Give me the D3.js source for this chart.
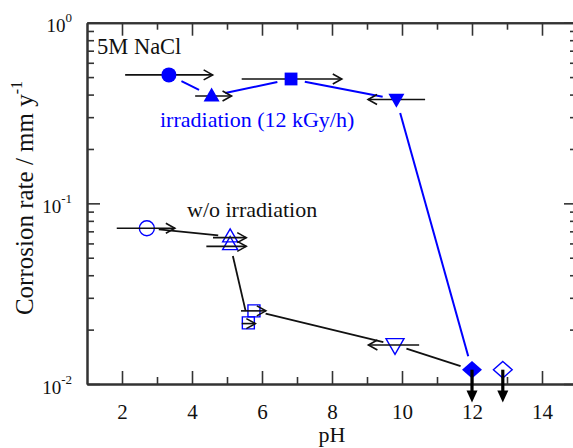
<!DOCTYPE html>
<html>
<head>
<meta charset="utf-8">
<script src="https://cdn.jsdelivr.net/npm/d3@7/dist/d3.min.js"></script>
<style>
html,body{margin:0;padding:0;background:#fff;}
svg{display:block;}
svg text{font-family:"Liberation Serif","Times New Roman",serif;}
</style>
</head>
<body>
<svg id="chart" width="573" height="448"></svg>
<script>
// ---- data ----
// irradiation (12 kGy/h) series, filled markers
const irrPH    = [3.34, 4.56, 6.83, 9.84, 12.0];
const irrRate  = [0.514, 0.393, 0.488, 0.376, 0.012];
const irrShape = ["circle", "triangle", "square", "triangleDown", "diamond"];
// pH drift arrows (start pH -> end pH) for irradiation series
const irrArrowFrom = [2.09, 4.09, 5.42, 10.66];
const irrArrowTo   = [4.59, 5.13, 8.28, 9.03];
const irrArrowRate = [0.514, 0.393, 0.488, 0.376];

// w/o irradiation series, open markers
const woPH    = [2.71, 5.09, 5.09, 5.61, 5.77, 9.80, 12.88];
const woRate  = [0.0728, 0.0654, 0.0593, 0.0218, 0.0254, 0.01645, 0.012];
const woShape = ["circle", "triangle", "triangle", "square", "square", "triangleDown", "diamond"];
// connecting line of w/o irradiation series
const woLinePH   = [2.71, 5.09, 5.09, 5.61, 5.77, 9.80, 12.0];
const woLineRate = [0.0728, 0.0654, 0.0593, 0.0218, 0.0254, 0.01645, 0.012];
// pH drift arrows for w/o series
const woArrowFrom = [1.85, 4.60, 4.41, 5.40, 5.42, 10.49];
const woArrowTo   = [3.51, 5.55, 5.55, 6.11, 5.81, 9.04];
const woArrowRate = [0.0728, 0.0646, 0.0578, 0.0254, 0.0216, 0.01645];

// downward arrows (upper limits) at pH
const limitPH   = [12.0, 12.88];
const limitRate = [0.012, 0.012];
const limitEnd  = [0.0079, 0.0079];

// ticks
const xMajor = [2, 4, 6, 8, 10, 12, 14];
const xMinor = [3, 5, 7, 9, 11, 13];
const yMajor = [0.01, 0.1, 1];
const yMajorExp = ["-2", "-1", "0"];
const yMinor = [0.02,0.03,0.04,0.05,0.06,0.07,0.08,0.09,0.2,0.3,0.4,0.5,0.6,0.7,0.8,0.9];

// ---- layout ----
const FONT = "Liberation Serif, Times New Roman, serif";
const svg = d3.select("#chart");
const L = 87, R = 577, T = 22.7, B = 384;
const x = d3.scaleLinear().domain([1, 15]).range([L, R]);
const y = d3.scaleLog().domain([0.01, 1]).range([B, T]);
const BLUE = "#0000ff";
const AX = "#333";

// axes
function styleAxis(g) {
  g.attr("font-family", FONT);
  g.select(".domain").attr("stroke", AX).attr("stroke-width", 2);
  g.selectAll(".tick line").attr("stroke", AX).attr("stroke-width", 1.6);
}
svg.append("g").attr("transform", `translate(0,${B})`)
  .call(d3.axisBottom(x).tickValues(xMajor).tickSizeInner(-13).tickSizeOuter(0).tickPadding(20).tickFormat(d3.format("d")))
  .call(styleAxis)
  .call(g => g.selectAll("text").attr("font-size", 21).attr("fill", "#111").attr("font-family", FONT));
svg.append("g").attr("transform", `translate(0,${B})`)
  .call(d3.axisBottom(x).tickValues(xMinor).tickSizeInner(-7).tickSizeOuter(0).tickFormat(""))
  .call(styleAxis);
svg.append("g").attr("transform", `translate(0,${T})`)
  .call(d3.axisTop(x).tickValues(xMajor).tickSizeInner(-13).tickSizeOuter(0).tickFormat(""))
  .call(styleAxis);
svg.append("g").attr("transform", `translate(0,${T})`)
  .call(d3.axisTop(x).tickValues(xMinor).tickSizeInner(-7).tickSizeOuter(0).tickFormat(""))
  .call(styleAxis);

const yAxL = svg.append("g").attr("transform", `translate(${L},0)`)
  .call(d3.axisLeft(y).tickValues(yMajor).tickSizeInner(-13).tickSizeOuter(0).tickFormat(""))
  .call(styleAxis);
yAxL.selectAll(".tick").each(function(d, i) {
  const t = d3.select(this).append("text")
    .attr("x", -15).attr("y", 9).attr("text-anchor", "end")
    .attr("fill", "#111").attr("font-size", 19).attr("font-family", FONT);
  t.append("tspan").text("10");
  t.append("tspan").attr("font-size", 13).attr("dy", -10).text(yMajorExp[i]);
});
svg.append("g").attr("transform", `translate(${L},0)`)
  .call(d3.axisLeft(y).tickValues(yMinor).tickSizeInner(-7).tickSizeOuter(0).tickFormat(""))
  .call(styleAxis);
svg.append("g").attr("transform", `translate(${R},0)`)
  .call(d3.axisRight(y).tickValues(yMajor).tickSizeInner(-13).tickSizeOuter(0).tickFormat(""))
  .call(styleAxis);
svg.append("g").attr("transform", `translate(${R},0)`)
  .call(d3.axisRight(y).tickValues(yMinor).tickSizeInner(-7).tickSizeOuter(0).tickFormat(""))
  .call(styleAxis);

// axis titles
svg.append("text").attr("x", (L + R) / 2).attr("y", 442).attr("text-anchor", "middle")
  .attr("font-family", FONT).attr("font-size", 22).attr("fill", "#111").text("pH");
const yt = svg.append("text").attr("transform", `translate(33,198) rotate(-90)`)
  .attr("text-anchor", "middle").attr("font-family", FONT).attr("font-size", 25).attr("fill", "#111");
yt.append("tspan").text("Corrosion rate / mm y");
yt.append("tspan").attr("font-size", 16).attr("dy", -11).text("-1");

// annotations
svg.append("text").attr("x", 97).attr("y", 54).attr("font-family", FONT).attr("font-size", 22.5).attr("fill", "#111").text("5M NaCl");
svg.append("text").attr("x", 160).attr("y", 127).attr("font-family", FONT).attr("font-size", 22).attr("fill", BLUE).text("irradiation (12 kGy/h)");
svg.append("text").attr("x", 187).attr("y", 217).attr("font-family", FONT).attr("font-size", 22).attr("fill", "#111").text("w/o irradiation");

// connecting lines with gaps near markers
function gapLines(xs, ys, color, gap, width) {
  const segs = [];
  for (let i = 0; i < xs.length - 1; i++) {
    const x1 = x(xs[i]), y1 = y(ys[i]), x2 = x(xs[i + 1]), y2 = y(ys[i + 1]);
    const len = Math.hypot(x2 - x1, y2 - y1);
    if (len <= 2 * gap + 2) continue;
    const ux = (x2 - x1) / len, uy = (y2 - y1) / len;
    segs.push([x1 + ux * gap, y1 + uy * gap, x2 - ux * gap, y2 - uy * gap]);
  }
  svg.append("g").selectAll("line").data(segs).join("line")
    .attr("x1", d => d[0]).attr("y1", d => d[1]).attr("x2", d => d[2]).attr("y2", d => d[3])
    .attr("stroke", color).attr("stroke-width", width);
}
gapLines(irrPH, irrRate, BLUE, 14, 2);
gapLines(woLinePH, woLineRate, "#111", 12, 1.8);

// horizontal pH drift arrows
function hArrows(from, to, rate) {
  const g = svg.append("g").attr("fill", "none").attr("stroke", "#111").attr("stroke-width", 1.6);
  from.forEach((f, i) => {
    const xa = x(f), xb = x(to[i]), yy = y(rate[i]);
    const dir = xb > xa ? 1 : -1;
    g.append("line").attr("x1", xa).attr("y1", yy).attr("x2", xb).attr("y2", yy);
    g.append("path").attr("d", `M${xb - dir * 9},${yy - 5} L${xb},${yy} L${xb - dir * 9},${yy + 5}`);
  });
}

// markers
function sym(shape, s) {
  switch (shape) {
    case "circle": return `M${s},0 A${s},${s} 0 1,1 ${-s},0 A${s},${s} 0 1,1 ${s},0Z`;
    case "triangle": return `M0,${-s * 1.05} L${s * 1.0},${s * 0.7} L${-s * 1.0},${s * 0.7}Z`;
    case "triangleDown": return `M0,${s * 1.05} L${s * 1.0},${-s * 0.7} L${-s * 1.0},${-s * 0.7}Z`;
    case "square": return `M${-s * 0.8},${-s * 0.8} H${s * 0.8} V${s * 0.8} H${-s * 0.8}Z`;
    case "diamond": return `M0,${-s * 1.1} L${s * 1.25},0 L0,${s * 1.1} L${-s * 1.25},0Z`;
  }
}

// open markers (w/o irradiation)
svg.append("g").selectAll("path").data(woPH).join("path")
  .attr("transform", (d, i) => `translate(${x(d)},${y(woRate[i])})`)
  .attr("d", (d, i) => sym(woShape[i], woShape[i] === "triangleDown" ? 9 : 7.5))
  .attr("fill", "none").attr("stroke", BLUE).attr("stroke-width", 1.4);

hArrows(irrArrowFrom, irrArrowTo, irrArrowRate);
hArrows(woArrowFrom, woArrowTo, woArrowRate);

// filled markers (irradiation)
svg.append("g").selectAll("path").data(irrPH).join("path")
  .attr("transform", (d, i) => `translate(${x(d)},${y(irrRate[i])})`)
  .attr("d", (d, i) => sym(irrShape[i], irrShape[i] === "circle" ? 7.5 : 8))
  .attr("fill", BLUE);

// downward limit arrows
const lg = svg.append("g");
limitPH.forEach((p, i) => {
  const xx = x(p), y0 = y(limitRate[i]), y1 = y(limitEnd[i]);
  lg.append("line").attr("x1", xx).attr("y1", y0).attr("x2", xx).attr("y2", y1 - 10)
    .attr("stroke", "#000").attr("stroke-width", 3.2);
  lg.append("path").attr("d", `M${xx - 5.5},${y1 - 12} L${xx + 5.5},${y1 - 12} L${xx},${y1}Z`).attr("fill", "#000");
});
</script>
</body>
</html>
